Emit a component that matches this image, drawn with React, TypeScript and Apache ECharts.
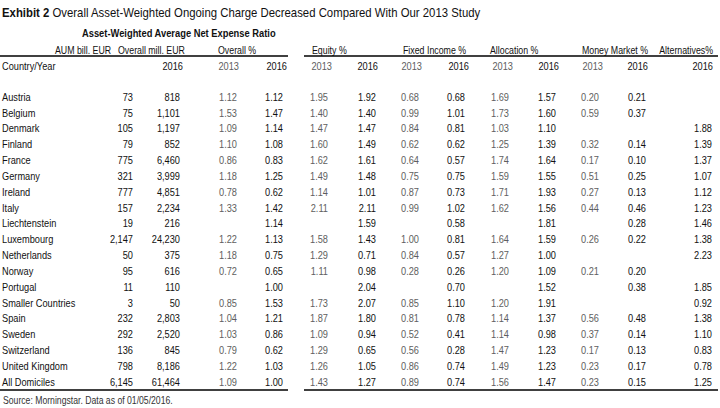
import React, { useEffect, useRef } from "react";
import * as echarts from "echarts";

const title = "Overall Asset-Weighted Ongoing Charge Decreased Compared With Our 2013 Study";
const exhibit = "Exhibit 2";
const subtitle = "Asset-Weighted Average Net Expense Ratio";
const source = "Source: Morningstar. Data as of 01/05/2016.";

const countries = ["Austria", "Belgium", "Denmark", "Finland", "France", "Germany", "Ireland", "Italy", "Liechtenstein", "Luxembourg", "Netherlands", "Norway", "Portugal", "Smaller Countries", "Spain", "Sweden", "Switzerland", "United Kingdom", "All Domiciles"];
const aumBill = [73, 75, 105, 79, 775, 321, 777, 157, 19, 2147, 50, 95, 11, 3, 232, 292, 136, 798, 6145];
const overallMill = [818, 1101, 1197, 852, 6460, 3999, 4851, 2234, 216, 24230, 375, 616, 110, 50, 2803, 2520, 845, 8186, 61464];
const overall2013 = [1.12, 1.53, 1.09, 1.10, 0.86, 1.18, 0.78, 1.33, null, 1.22, 1.18, 0.72, null, 0.85, 1.04, 1.03, 0.79, 1.22, 1.09];
const overall2016 = [1.12, 1.47, 1.14, 1.08, 0.83, 1.25, 0.62, 1.42, 1.14, 1.13, 0.75, 0.65, 1.00, 1.53, 1.21, 0.86, 0.62, 1.03, 1.00];
const equity2013 = [1.95, 1.40, 1.47, 1.60, 1.62, 1.49, 1.14, 2.11, null, 1.58, 1.29, 1.11, null, 1.73, 1.87, 1.09, 1.29, 1.26, 1.43];
const equity2016 = [1.92, 1.40, 1.47, 1.49, 1.61, 1.48, 1.01, 2.11, 1.59, 1.43, 0.71, 0.98, 2.04, 2.07, 1.80, 0.94, 0.65, 1.05, 1.27];
const fixed2013 = [0.68, 0.99, 0.84, 0.62, 0.64, 0.75, 0.87, 0.99, null, 1.00, 0.84, 0.28, null, 0.85, 0.81, 0.52, 0.56, 0.86, 0.89];
const fixed2016 = [0.68, 1.01, 0.81, 0.62, 0.57, 0.75, 0.73, 1.02, 0.58, 0.81, 0.57, 0.26, 0.70, 1.10, 0.78, 0.41, 0.28, 0.74, 0.74];
const alloc2013 = [1.69, 1.73, 1.03, 1.25, 1.74, 1.59, 1.71, 1.62, null, 1.64, 1.27, 1.20, null, 1.20, 1.14, 1.14, 1.47, 1.49, 1.56];
const alloc2016 = [1.57, 1.60, 1.10, 1.39, 1.64, 1.55, 1.93, 1.56, 1.81, 1.59, 1.00, 1.09, 1.52, 1.91, 1.37, 0.98, 1.23, 1.23, 1.47];
const money2013 = [0.20, 0.59, null, 0.32, 0.17, 0.51, 0.27, 0.44, null, 0.26, null, 0.21, null, null, 0.56, 0.37, 0.17, 0.23, 0.23];
const money2016 = [0.21, 0.37, null, 0.14, 0.10, 0.25, 0.13, 0.46, 0.28, 0.22, null, 0.20, 0.38, null, 0.48, 0.14, 0.13, 0.17, 0.15];
const alt2016 = [null, null, 1.88, 1.39, 1.37, 1.07, 1.12, 1.23, 1.46, 1.38, 2.23, null, 1.85, 0.92, 1.38, 1.10, 0.83, 0.78, 1.25];

const groupLabels = ["AUM bill. EUR", "Overall mill. EUR", "Overall %", "Equity %", "Fixed Income %", "Allocation %", "Money Market %", "Alternatives%"];
const yearLabels = ["2016", "2013", "2016", "2013", "2016", "2013", "2016", "2013", "2016", "2013", "2016", "2016"];

const FONT = "'Liberation Sans', Arial, sans-serif";
const GREY = "#5e5e5e";
const BLACK = "#111111";

function measure(text: string, size: number, bold: boolean): number {
  const c = document.createElement("canvas").getContext("2d");
  if (!c) return text.length * size * 0.5;
  c.font = `${bold ? "bold " : ""}${size}px ${FONT}`;
  return c.measureText(text).width;
}

export default function App() {
  const ref = useRef<HTMLDivElement>(null);
  useEffect(() => {
    if (!ref.current) return;
    const chart = echarts.init(ref.current, null, { renderer: "svg" });

    const columns: { vals: (number | null)[]; right: number; grey: boolean; int?: boolean }[] = [
      { vals: aumBill, right: 133, grey: false, int: true },
      { vals: overallMill, right: 180, grey: false, int: true },
      { vals: overall2013, right: 237, grey: true },
      { vals: overall2016, right: 283, grey: false },
      { vals: equity2013, right: 328, grey: true },
      { vals: equity2016, right: 376, grey: false },
      { vals: fixed2013, right: 419, grey: true },
      { vals: fixed2016, right: 465, grey: false },
      { vals: alloc2013, right: 509, grey: true },
      { vals: alloc2016, right: 556, grey: false },
      { vals: money2013, right: 599, grey: true },
      { vals: money2016, right: 646, grey: false },
      { vals: alt2016, right: 712, grey: false },
    ];
    const yearRights = [183, 239, 287, 332, 378, 422, 469, 513, 559, 603, 648, 713];
    const groupLefts = [55, 118, 218, 312, 403, 490, 582, 713];

    const rowY0 = 97;
    const rowStep = 15.83;
    const bodySize = 11;
    const sx = 0.84;
    const hx = 0.8;
    const els: any[] = [];

    const titleSize = 12.5;
    const titleW = measure(exhibit + " ", titleSize, true) + measure(title, titleSize, false);
    const titleScale = 479 / titleW;
    els.push({
      type: "text", x: 2, y: 13, scaleX: titleScale,
      style: {
        text: "{b|" + exhibit + "} " + title,
        fontFamily: FONT, fontSize: titleSize, fill: BLACK, verticalAlign: "middle",
        rich: { b: { fontFamily: FONT, fontSize: titleSize, fontWeight: "bold", fill: BLACK } },
      },
    });
    const subScale = 194 / measure(subtitle, 11.5, true);
    els.push({
      type: "text", x: 82, y: 33, scaleX: subScale,
      style: { text: subtitle, fontFamily: FONT, fontSize: 11.5, fontWeight: "bold", fill: BLACK, align: "left", verticalAlign: "middle" },
    });
    groupLabels.forEach((g, i) => {
      const last = i === groupLabels.length - 1;
      els.push({
        type: "text", x: groupLefts[i], y: 50, scaleX: hx,
        style: { text: g, fontFamily: FONT, fontSize: bodySize, fill: BLACK, align: last ? "right" : "left", verticalAlign: "middle" },
      });
    });
    els.push({
      type: "text", x: 2, y: 66.5, scaleX: sx,
      style: { text: "Country/Year", fontFamily: FONT, fontSize: bodySize, fill: BLACK, verticalAlign: "middle" },
    });
    yearLabels.forEach((t, i) => {
      els.push({
        type: "text", x: yearRights[i], y: 66.5, scaleX: sx,
        style: { text: t, fontFamily: FONT, fontSize: bodySize, fill: t === "2013" ? GREY : BLACK, align: "right", verticalAlign: "middle" },
      });
    });

    countries.forEach((c, r) => {
      const y = rowY0 + r * rowStep;
      els.push({
        type: "text", x: 2, y, scaleX: sx,
        style: { text: c, fontFamily: FONT, fontSize: bodySize, fill: BLACK, verticalAlign: "middle" },
      });
      columns.forEach((col) => {
        const v = col.vals[r];
        if (v === null || v === undefined) return;
        const txt = col.int ? v.toLocaleString("en-US") : v.toFixed(2);
        els.push({
          type: "text", x: col.right, y, scaleX: sx,
          style: { text: txt, fontFamily: FONT, fontSize: bodySize, fill: col.grey ? GREY : BLACK, align: "right", verticalAlign: "middle" },
        });
      });
    });

    const lineStyle = { stroke: "#000", lineWidth: 1.5 };
    [56, 390].forEach((y) => {
      els.push({ type: "line", shape: { x1: 0, y1: y, x2: 288, y2: y }, style: lineStyle });
      els.push({ type: "line", shape: { x1: 304, y1: y, x2: 718, y2: y }, style: lineStyle });
    });

    const srcScale = 170 / measure(source, 10.5, false);
    els.push({
      type: "text", x: 3, y: 400, scaleX: srcScale,
      style: { text: source, fontFamily: FONT, fontSize: 10.5, fill: "#333", verticalAlign: "middle" },
    });

    chart.setOption({ animation: false, backgroundColor: "#fff", graphic: { elements: els } });
    return () => chart.dispose();
  }, []);
  return <div ref={ref} style={{ position: "fixed", left: 0, top: 0, width: 720, height: 408 }} />;
}
